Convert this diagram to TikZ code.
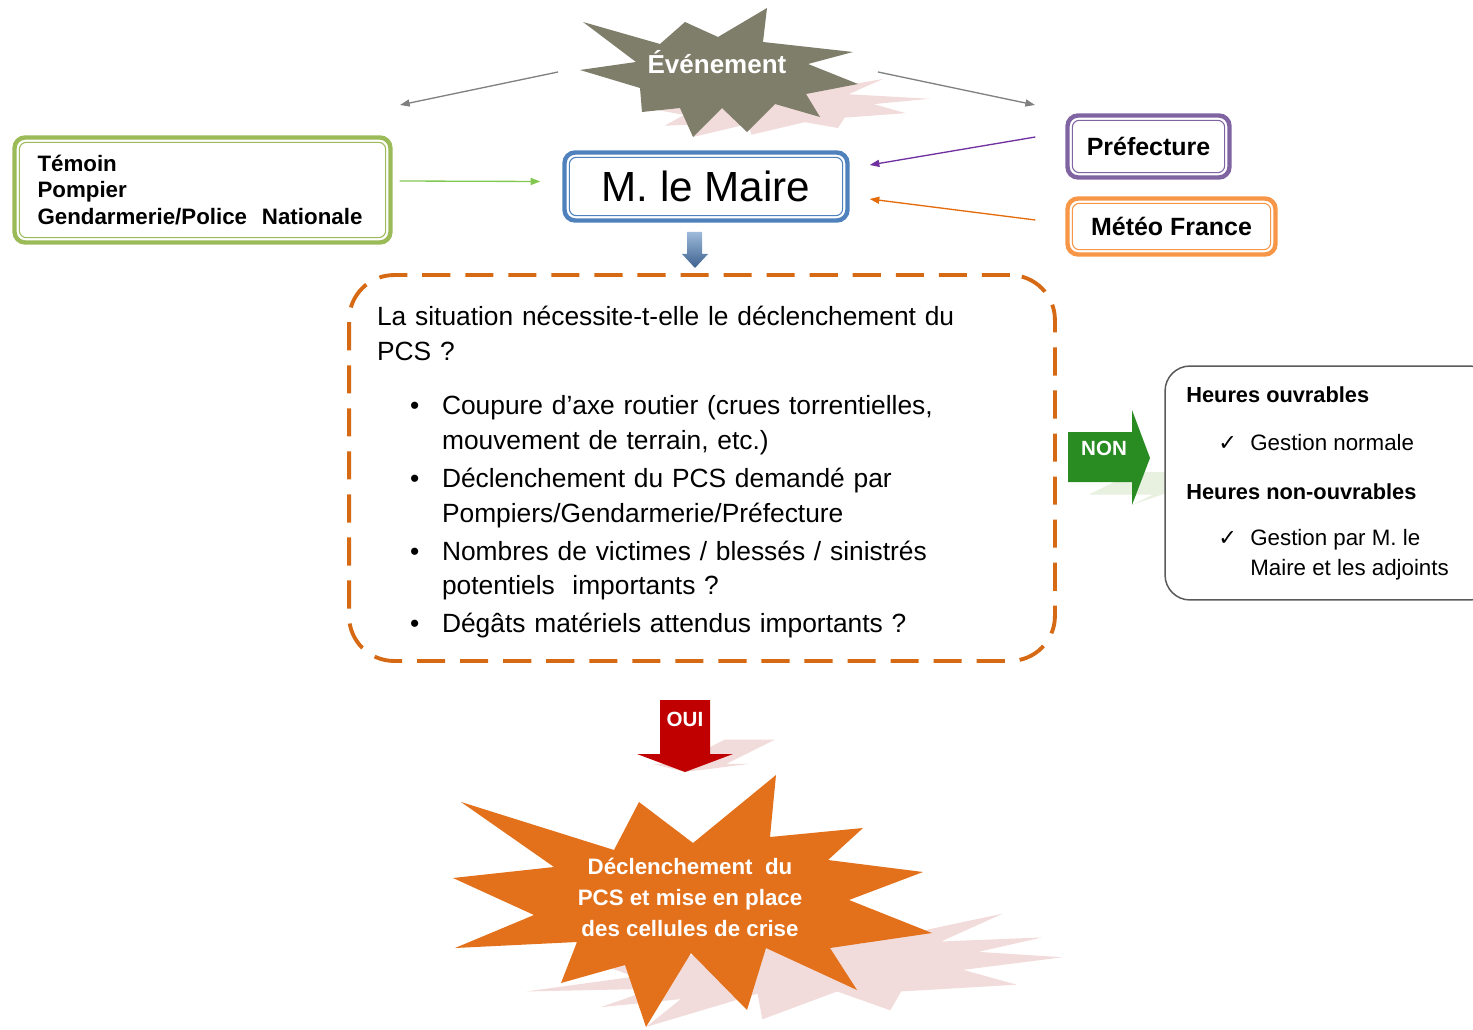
\documentclass[tikz,border=0pt]{standalone}
\usepackage{fontspec}
\setmainfont{Liberation Sans}
\newfontfamily\symbolfont{DejaVu Sans}
\usepackage{tikz}
\usetikzlibrary{arrows.meta,positioning,calc}

\setlength{\parindent}{0pt}

\definecolor{burstgrey}{RGB}{127,126,106}
\definecolor{shadowpink}{RGB}{242,220,219}
\definecolor{srcgreen}{RGB}{155,187,89}
\definecolor{linegreen}{RGB}{130,200,80}
\definecolor{maireblue}{RGB}{79,129,189}
\definecolor{prefpurple}{RGB}{128,100,162}
\definecolor{linepurple}{RGB}{112,48,160}
\definecolor{meteoorange}{RGB}{247,150,70}
\definecolor{lineorange}{RGB}{228,108,10}
\definecolor{dashorange}{RGB}{214,105,20}
\definecolor{nongreen}{RGB}{41,140,34}
\definecolor{nonshadow}{RGB}{232,240,224}
\definecolor{ouired}{RGB}{192,0,0}
\definecolor{pcsorange}{RGB}{227,112,26}
\definecolor{linegrey}{RGB}{128,128,128}
\definecolor{boxgrey}{RGB}{90,90,90}

\newcommand{\fsize}[2]{\fontsize{#1}{#2}\selectfont}
\newcommand{\checkmk}{\makebox[0.64cm][l]{\symbolfont ✓}}
\newcommand{\pcsitem}{\par\vspace{1.7pt}\hangindent=1.3cm\hangafter=1\noindent\makebox[1.3cm][l]{\hspace{0.66cm}\textbullet}}

% the two bursts and the two block arrows
\newcommand{\eventburst}[1]{\fill[#1] (583,22) -- (660,44) -- (685,22) -- (718,37) -- (767,8) -- (763,42) -- (853,52) -- (808,64) -- (858,84) -- (806,94) -- (820,117) -- (775,104) -- (747,132) -- (722,108) -- (693,137) -- (680,108) -- (642,112) -- (640,88) -- (580,70) -- (636,62) -- cycle;}
\newcommand{\pcsburst}[1]{\fill[#1] (461,802) -- (614,850) -- (639,802) -- (693,843) -- (776,775) -- (770,837) -- (863,828) -- (828,860) -- (923,872) -- (849,900) -- (932,933) -- (830,948) -- (857,990) -- (766,948) -- (747,1010) -- (691,953) -- (646,1027) -- (625,965) -- (561,983) -- (577,942) -- (455,948) -- (534,915) -- (453,878) -- (554,867) -- cycle;}
\newcommand{\nonarrow}[1]{\fill[#1] (1068,432) -- (1132,432) -- (1132,410) -- (1150,458) -- (1132,505) -- (1132,482) -- (1068,482) -- cycle;}
\newcommand{\ouiarrow}[1]{\fill[#1] (660,700) -- (710,700) -- (710,754) -- (733,754) -- (685,772) -- (637,754) -- (660,754) -- cycle;}

\begin{document}
\begin{tikzpicture}[x=0.02cm, y=-0.02cm, >={Triangle[length=5.5pt,width=4pt]},
  every node/.style={inner sep=0pt, font=\fsize{12.7}{15.3}},
  framebox/.style={draw=#1, line width=2.5pt, rounded corners=6pt, fill=white},
  flatshadow/.style={shift={(0,#1)}, yscale=0.45, xslant=0.9, shift={(0,-#1)}},
  burstlabel/.style={text=white, font=\bfseries\fsize{12.7}{17.6}, align=center},
  blocklabel/.style={text=white, font=\bfseries\fsize{11.7}{14}},
  feedline/.style={->, line width=0.75pt}]
\useasboundingbox (0,0) rectangle (1473,1030);

% shadows first
\eventburst{shadowpink, flatshadow=137}
\pcsburst{shadowpink, flatshadow=1027}
\ouiarrow{shadowpink, flatshadow=772}
\nonarrow{nonshadow, flatshadow=505}

\eventburst{burstgrey}
\pcsburst{pcsorange}
\node[burstlabel, font=\bfseries\fsize{14.8}{17}] (evt) at (717,62) {Événement};
\node[burstlabel] (pcs) at (690,897) {Déclenchement\ \ du\\PCS et mise en place\\des cellules de crise};

% sources
\node[framebox=srcgreen, minimum width=7.52cm, minimum height=2.1cm, text width=6.6cm, align=left, font=\bfseries\fsize{12.7}{15.3}] (src) at (202.5,190) {Témoin\\Pompier\\Gendarmerie/Police\ \ Nationale};
\node[framebox=maireblue, minimum width=5.66cm, minimum height=1.36cm, font=\fsize{24}{28}] (maire) at (706,186.5) {\raisebox{-1.5pt}{M. le Maire}};
\node[framebox=prefpurple, minimum width=3.24cm, minimum height=1.24cm, font=\bfseries\fsize{14.2}{17}] (pref) at (1148.5,146.5) {Préfecture};
\node[framebox=meteoorange, minimum width=4.16cm, minimum height=1.12cm, font=\bfseries\fsize{14.2}{17}] (meteo) at (1171.5,226.5) {Météo France};
\foreach \b/\c in {src/srcgreen, maire/maireblue, pref/prefpurple, meteo/meteoorange}
  \draw[\c, line width=0.6pt, rounded corners=4pt] ([shift={(7,7)}]\b.north west) rectangle ([shift={(-7,-7)}]\b.south east);

\coordinate (evtw) at (558,72);
\coordinate (evte) at (878,72);
\coordinate (evtl) at (400,105);
\coordinate (evtr) at (1035,105);
\draw[feedline, linegrey] (evtw) -- (evtl);
\draw[feedline, linegrey] (evte) -- (evtr);
\draw[feedline, linegreen] ($(src.east)+(7,-9)$) -- ($(maire.west)+(-22,-5)$);
\draw[feedline, linepurple] ($(pref.west)+(-30,-9.5)$) -- ($(maire.east)+(20,-21.5)$);
\draw[feedline, lineorange] ($(meteo.west)+(-30,-6.5)$) -- ($(maire.east)+(20,12.5)$);

\shade[top color=maireblue!55!white, bottom color=maireblue!75!black] (687,232) -- (702,232) -- (702,254) -- (708,254) -- (695,268) -- (682,254) -- (687,254) -- cycle;

% question
\node[draw=dashorange, line width=2.2pt, dash pattern=on 16pt off 8.5pt, rounded corners=0.9cm,
  minimum width=14.12cm, minimum height=7.72cm] (pcsframe) at (702,468) {};
\node[text width=13cm, align=left, font=\fsize{15}{19.85}] (pcsq) at (702,472) {La situation nécessite-t-elle le déclenchement du\\
PCS ?\par\vspace{9.5pt}
\pcsitem Coupure d’axe routier (crues torrentielles,\newline mouvement de terrain, etc.)
\pcsitem Déclenchement du PCS demandé par\newline Pompiers/Gendarmerie/Préfecture
\pcsitem Nombres de victimes / blessés / sinistrés\newline potentiels\ \ importants ?
\pcsitem Dégâts matériels attendus importants ?};

% NON
\nonarrow{nongreen}
\node[blocklabel] (non) at (1104,448) {NON};
\node[draw=boxgrey, line width=0.85pt, rounded corners=0.5cm, fill=white, minimum width=6.6cm, minimum height=4.68cm] (hourbox) at (1330,483) {};
\node[anchor=west, font=\bfseries\fsize{12.4}{15}] (open) at (1186,395) {Heures ouvrables};
\node[anchor=west] (opencheck) at (1218,443) {\checkmk Gestion normale};
\node[anchor=west, font=\bfseries\fsize{12.4}{15}] (closed) at (1186,492) {Heures non-ouvrables};
\node[anchor=west, align=left, font=\fsize{12.7}{17}] (closedcheck) at (1218,555) {\checkmk Gestion par M. le\\\hspace*{0.64cm}Maire et les adjoints};

% OUI
\ouiarrow{ouired}
\node[blocklabel] (oui) at (685,719) {OUI};
\end{tikzpicture}
\end{document}
